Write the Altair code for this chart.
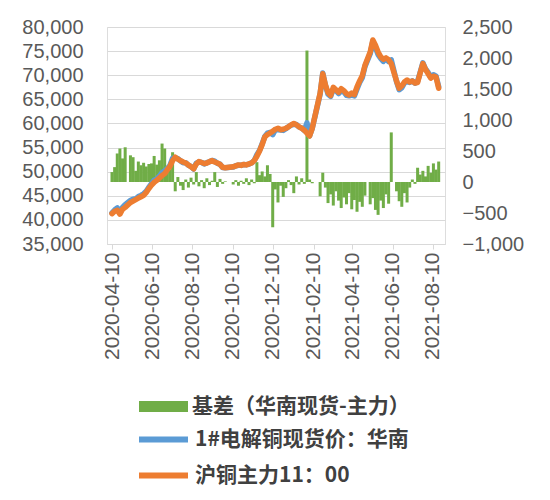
import altair as alt
import pandas as pd

NAME_BASIS = "基差（华南现货-主力）"
NAME_SPOT = "1#电解铜现货价：华南"
NAME_FUT = "沪铜主力11：00"

# sampling dates: every 4 calendar days from 2020-04-10 (125 points)
START = "2020-04-10"
STEP_DAYS = 4

# 沪铜主力 (CNY/t); None = market holiday
futures = [
    41300, 41800, 42000, 41200, 42200, 42600, None, 43600, 43900, 44200,   # 0-9
    44500, 44800, 45100, 45700, 46500, 47200, 47800, 48200, 48700, 49200,  # 10-19
    49600, 50400, 51100, 52300, 53000, 52600, 52300, 52000, 51800, 51400,  # 20-29
    51000, 50600, 51600, 52100, 51900, 51700, 51800, 52100, 52300, 52000,  # 30-39
    51800, 51500, 50900, 50800, None, None, 51000, 51200, 51400, 51300,    # 40-49
    51500, 51400, 51600, 51800, 52300, 53200, 54300, 55600, 57200, 57700,  # 50-59
    58000, 58400, 58800, 59000, 58700, 58800, 59000, 59300, 59700, 60000,  # 60-69
    59700, 59300, 59000, 58600, 58000, 57400, 59000, None, None, 66300,    # 70-79
    70300, 68000, 66400, 65800, 67500, 67000, 66500, 67200, 66800, 66200,  # 80-89
    65900, 66300, 66000, 67600, 68800, 69900, 72000, None, 74800, 77300,   # 90-99
    76200, 74800, 73800, 73300, 73600, 73200, 72400, None, 68800, 67300,   # 100-109
    67800, 68600, 69000, 68600, 68800, 68400, 68500, 70500, 72400, 71200,  # 110-119
    70300, 69400, 69800, 69600, 67300,                                     # 120-124
]

# 基差 = 华南现货 - 主力 (CNY/t)
basis = [
    160, 240, 460, 540, 380, 560, None, 430, 400, 180,        # 0-9
    330, 270, 310, 250, 290, 300, 420, 280, 350, 620,         # 10-19
    540, 250, 200, 480, -150, 80, -60, -130, 40, -90,         # 20-29
    70, -40, 160, -70, 30, -100, 60, -50, 20, 160,            # 30-39
    -80, 50, -30, 10, None, None, -40, 30, -60, 20,           # 40-49
    -30, 60, -50, 40, -20, 320, 110, 170, 90, 270,            # 50-59
    130, -730, -120, -330, -60, -240, -100, 30, -50, -180,    # 60-69
    90, -40, 60, -30, 2120, 40, -20, None, None, -230,        # 70-79
    150, -90, -340, -200, -380, -150, -300, -420, -250, -360, # 80-89
    -180, -440, -290, -480, -320, -400, -220, None, -360, -260,  # 90-99
    -450, -530, -300, -420, -200, -350, 800, None, -150, -310,   # 100-109
    -400, -180, -330, -90, 40, -30, 230, 120, 180, 90,        # 110-119
    260, 150, 300, 200, 330,                                  # 120-124
]

# spot price = futures + basis
spot = [f + b if (f is not None and b is not None) else f for f, b in zip(futures, basis)]

n = min(len(futures), len(basis))
start = pd.Timestamp(START)
dates = [(start + pd.Timedelta(days=STEP_DAYS * i)).strftime("%Y-%m-%d") for i in range(n)]

x_ticks = ["2020-04-10", "2020-06-10", "2020-08-10", "2020-10-10", "2020-12-10",
           "2021-02-10", "2021-04-10", "2021-06-10", "2021-08-10"]
left_ticks = [35000, 40000, 45000, 50000, 55000, 60000, 65000, 70000, 75000, 80000]
right_ticks = [-1000, -500, 0, 500, 1000, 1500, 2000, 2500]

df_b = pd.DataFrame({"date": dates, "value": basis[:n], "series": NAME_BASIS}).dropna()
df_s = pd.DataFrame({"date": dates, "value": spot[:n], "series": NAME_SPOT}).dropna()
df_f = pd.DataFrame({"date": dates, "value": futures[:n], "series": NAME_FUT}).dropna()

GREEN, BLUE, ORANGE = "#70AD47", "#5B9BD5", "#ED7D31"
AXIS_FONT = "Liberation Sans"
LEG_FONT = "Noto Sans CJK SC"


def dt(s):
    y, m, d = (int(p) for p in s.split("-"))
    return alt.DateTime(year=y, month=m, date=d, utc=True)


x_scale = alt.Scale(type="utc", domain=[dt("2020-04-10"), dt("2021-08-21")], nice=False)
x_axis = alt.Axis(values=[dt(s) for s in x_ticks], format="%Y-%m-%d", labelAngle=270,
                  labelFontSize=21, labelColor="#595959", labelFont=AXIS_FONT,
                  tickColor="#d9d9d9", tickSize=5, domainColor="#d9d9d9", grid=False,
                  labelPadding=3, title=None, labelOverlap=False)

x_enc = alt.X("date:T", scale=x_scale, axis=x_axis)

left_axis = alt.Axis(orient="left", values=left_ticks, format=",.0f", labelFontSize=20,
                     labelColor="#595959", labelFont=AXIS_FONT, grid=True,
                     gridColor="#d9d9d9", gridWidth=1.2, domain=False, ticks=False,
                     labelPadding=24, title=None)
right_axis = alt.Axis(orient="right", values=right_ticks, format=",.0f", labelFontSize=20,
                      labelColor="#595959", labelFont=AXIS_FONT, grid=False,
                      domain=False, ticks=False, labelPadding=17, title=None)

leg_common = dict(orient="none", title=None, labelFontSize=21, labelFont=LEG_FONT,
                  labelFontWeight="bold", labelColor="#404040", labelLimit=400,
                  padding=0, labelOffset=4)

bars = alt.Chart(df_b).mark_bar(size=3).encode(
    x=x_enc,
    y=alt.Y("value:Q", scale=alt.Scale(domain=[-1000, 2500], nice=False, zero=True), axis=right_axis),
    fill=alt.Fill("series:N", scale=alt.Scale(domain=[NAME_BASIS], range=[GREEN]),
                  legend=alt.Legend(legendX=32, legendY=355,
                                    symbolType="M-1,-0.224H1V0.224H-1Z", symbolSize=2401,
                                    symbolStrokeWidth=0, **leg_common)),
)

y_left = alt.Scale(domain=[35000, 80000], nice=False, zero=False)

blue = alt.Chart(df_s).mark_line(strokeWidth=5.5, strokeJoin="round", strokeCap="round").encode(
    x=x_enc,
    y=alt.Y("value:Q", scale=y_left, axis=left_axis),
    stroke=alt.Stroke("series:N", scale=alt.Scale(domain=[NAME_SPOT], range=[BLUE]),
                      legend=alt.Legend(legendX=29, legendY=385, symbolType="stroke",
                                        symbolSize=2401, symbolStrokeWidth=6, **leg_common)),
)

orange = alt.Chart(df_f).mark_line(strokeWidth=5.5, strokeJoin="round", strokeCap="round").encode(
    x=x_enc,
    y=alt.Y("value:Q", scale=y_left, axis=left_axis),
    color=alt.Color("series:N", scale=alt.Scale(domain=[NAME_FUT], range=[ORANGE]),
                    legend=alt.Legend(legendX=29, legendY=421, symbolType="stroke",
                                      symbolSize=2401, symbolStrokeWidth=6, **leg_common)),
)

lines = alt.layer(blue, orange)

chart = alt.layer(bars, lines).resolve_scale(y="independent").properties(
    width=338, height=217,
    autosize=alt.AutoSizeParams(type="none"),
    padding={"left": 99, "top": 19, "right": 97, "bottom": 250},
).configure_view(stroke=None).configure(background="white")

chart.save("out.html", embed_options={"renderer": "svg", "actions": False})
